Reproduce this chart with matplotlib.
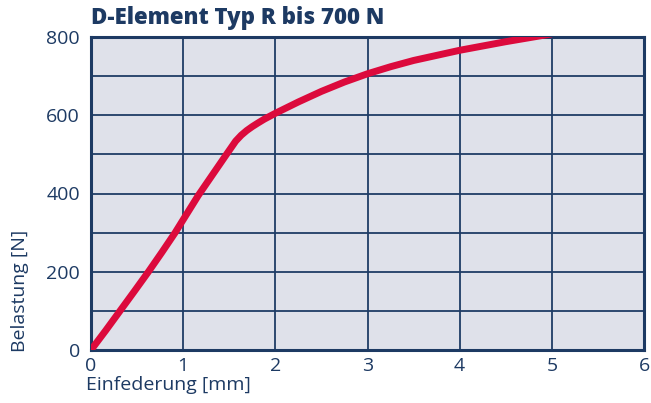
import matplotlib
matplotlib.use('Agg')
import matplotlib.pyplot as plt
from matplotlib.ticker import MultipleLocator

# load curve: Einfederung [mm] vs. Belastung [N]
deflection = [0, 0.16, 0.315, 0.47, 0.623, 0.77, 0.913, 1.0, 1.164, 1.33, 1.47,
              1.52, 1.57, 1.63, 1.69, 1.75, 1.81, 1.88, 1.96, 2.0, 2.25, 2.5,
              2.75, 3.0, 3.25, 3.5, 4.0, 4.5, 5.0]
load = [0, 50, 100, 150, 200, 250, 300, 333, 395, 452, 500,
        517, 534, 549, 561, 571, 580, 590, 600, 605, 634, 661,
        685, 706, 724, 740, 766, 788, 808]

x_ticks = [0, 1, 2, 3, 4, 5, 6]
y_ticks = [0, 200, 400, 600, 800]

title = 'D-Element Typ R bis 700 N'
x_label = 'Einfederung [mm]'
y_label = 'Belastung [N]'

navy = '#1d3a63'
grid_col = '#1f3c66'
face = '#dfe1ea'
red = '#dc0a3c'

plt.rcParams['font.family'] = ['Open Sans', 'DejaVu Sans']

fig = plt.figure(figsize=(6.51, 4.03), dpi=100)
ax = fig.add_axes([91 / 651, 53 / 403, 553 / 651, 313 / 403])
ax.set_facecolor(face)

ax.set_xlim(0, 6)
ax.set_ylim(0, 800)
ax.set_xticks(x_ticks)
ax.set_yticks(y_ticks)
ax.yaxis.set_minor_locator(MultipleLocator(100))
ax.tick_params(which='both', length=0, labelsize=14, labelcolor=navy)
ax.tick_params(axis='x', pad=5)
ax.tick_params(axis='y', pad=8)
ax.grid(True, which='both', color=grid_col, lw=1.3)
ax.set_axisbelow(True)
for s in ax.spines.values():
    s.set_color(navy)
    s.set_linewidth(2.2)

ax.plot(deflection, load, color=red, lw=5, solid_capstyle='butt',
        solid_joinstyle='round', zorder=3)

fig.text(91 / 651, 1 - 18 / 403, title, fontsize=16, fontweight='heavy',
         color=navy, ha='left', va='center')
fig.text(86 / 651, 1 - 385 / 403, x_label, fontsize=14, color=navy,
         ha='left', va='center')
fig.text(20 / 651, 1 - 291 / 403, y_label, fontsize=14, color=navy,
         ha='center', va='center', rotation=90)

fig.savefig('out.png', dpi=100)
